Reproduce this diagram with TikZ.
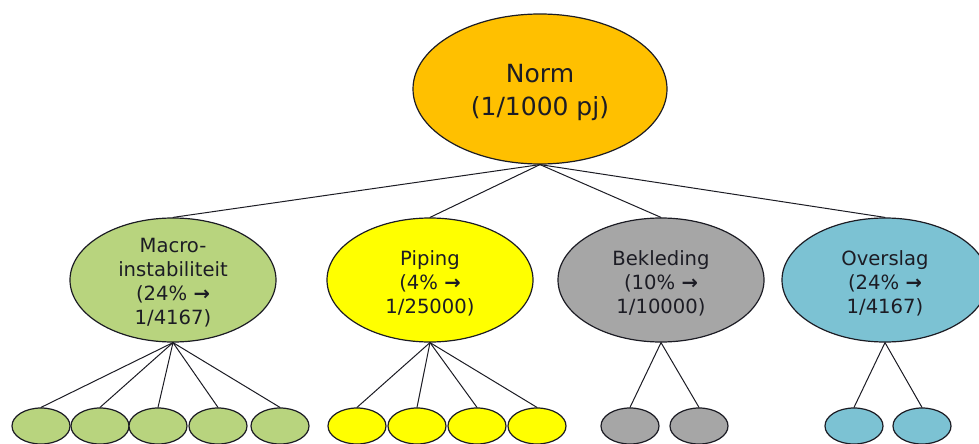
\documentclass[tikz,border=0pt]{standalone}
\usepackage{fontspec}
\setmainfont{DejaVu Sans}
\usetikzlibrary{shapes.geometric}
\begin{document}
\begin{tikzpicture}[x=0.5pt, y=-0.5pt, line cap=round, line join=round]
  \definecolor{Ink}{HTML}{1C1C24}
  \definecolor{NormOrange}{HTML}{FFC000}
  \definecolor{MacroGreen}{HTML}{B8D47E}
  \definecolor{PipingYellow}{HTML}{FFFF00}
  \definecolor{BekGray}{HTML}{A6A6A6}
  \definecolor{OverBlue}{HTML}{7CC2D3}

  \tikzset{
    blob/.style={ellipse, draw=Ink, line width=0.6pt, inner sep=0pt},
    rootblob/.style={blob, minimum width=127pt, minimum height=75pt},
    midblob/.style={blob, minimum width=103pt, minimum height=62pt},
    leafblob/.style={blob, minimum width=29pt, minimum height=18pt},
    roottext/.style={font=\fontsize{12.5}{16.5}\selectfont, align=center, text=Ink, yshift=-1.5pt},
    midtext/.style={font=\fontsize{9.8}{12}\selectfont, align=center, text=Ink, yshift=-1.5pt},
    link/.style={draw=Ink, line width=0.5pt}
  }

  \useasboundingbox (0,0) rectangle (979,444);

  % Top: the norm
  \node[rootblob, fill=NormOrange, label={[roottext]center:Norm\\(1/1000 pj)}] (norm) at (540,89) {};

  % Failure mechanisms
  \node[midblob, fill=MacroGreen, label={[midtext]center:Macro-\\instabiliteit\\(24\% {\bfseries →}\\1/4167)}] (macro) at (173,280) {};
  \node[midblob, fill=PipingYellow, label={[midtext]center:Piping\\(4\% {\bfseries →}\\1/25000)}] (piping) at (430,280) {};
  \node[midblob, fill=BekGray, label={[midtext]center:Bekleding\\(10\% {\bfseries →}\\1/10000)}] (bekleding) at (661,280) {};
  \node[midblob, fill=OverBlue, label={[midtext]center:Overslag\\(24\% {\bfseries →}\\1/4167)}] (overslag) at (885,280) {};

  \foreach \mech in {macro,piping,bekleding,overslag}
    \draw[link] (norm.south) -- (\mech.north);

  % Sub-mechanisms
  \foreach \x [count=\i] in {41,100,158,218,280} {
    \node[leafblob, fill=MacroGreen] (m\i) at (\x,426) {};
    \draw[link] (macro.south) -- (m\i.north);
  }
  \foreach \x [count=\i] in {357,417,477,537} {
    \node[leafblob, fill=PipingYellow] (p\i) at (\x,426) {};
    \draw[link] (piping.south) -- (p\i.north);
  }
  \foreach \x [count=\i] in {630,699} {
    \node[leafblob, fill=BekGray] (b\i) at (\x,426) {};
    \draw[link] (bekleding.south) -- (b\i.north);
  }
  \foreach \x [count=\i] in {854,922} {
    \node[leafblob, fill=OverBlue] (o\i) at (\x,426) {};
    \draw[link] (overslag.south) -- (o\i.north);
  }
\end{tikzpicture}
\end{document}
